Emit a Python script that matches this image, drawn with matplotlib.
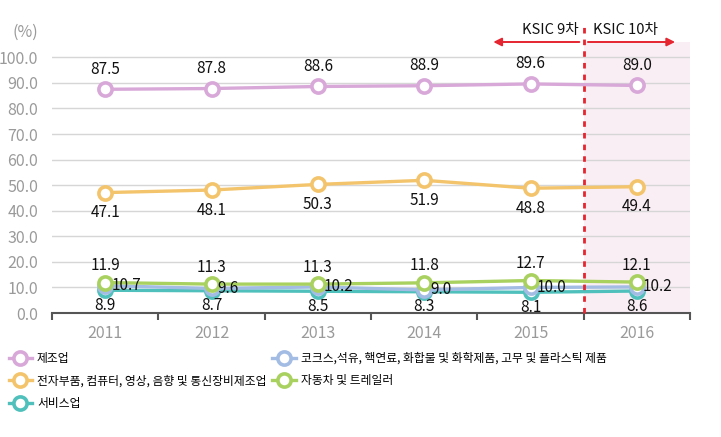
import matplotlib.pyplot as plt

plt.rcParams['font.family'] = ['Noto Sans CJK KR', 'DejaVu Sans']

years = ['2011', '2012', '2013', '2014', '2015', '2016']
manufacturing = [87.5, 87.8, 88.6, 88.9, 89.6, 89.0]
electronics = [47.1, 48.1, 50.3, 51.9, 48.8, 49.4]
services = [8.9, 8.7, 8.5, 8.3, 8.1, 8.6]
chemicals = [10.7, 9.6, 10.2, 9.0, 10.0, 10.2]
vehicles = [11.9, 11.3, 11.3, 11.8, 12.7, 12.1]

names = {
    'manufacturing': '제조업',
    'electronics': '전자부품, 컴퓨터, 영상, 음향 및 통신장비제조업',
    'services': '서비스업',
    'chemicals': '코크스,석유, 핵연료, 화합물 및 화학제품, 고무 및 플라스틱 제품',
    'vehicles': '자동차 및 트레일러',
}

# key, values, colour, label offset (px), ha  -- drawing order
series = [
    ('services', services, '#4fc0bb', (0, -15), 'center'),
    ('chemicals', chemicals, '#a3bce3', (6, 0), 'left'),
    ('vehicles', vehicles, '#a9d160', (0, 17), 'center'),
    ('electronics', electronics, '#f3c46b', (0, -20), 'center'),
    ('manufacturing', manufacturing, '#d8a8d8', (0, 20), 'center'),
]
legend_order = ['manufacturing', 'electronics', 'services', 'chemicals', 'vehicles']

fig = plt.figure(figsize=(7.21, 4.37), dpi=100)
ax = fig.add_axes([52 / 721, 1 - 313 / 437, 638 / 721, 271 / 437])

x = list(range(len(years)))
handles = {}
for key, vals, color, (dx, dy), ha in series:
    (ln,) = ax.plot(x, vals, color=color, lw=2.4, marker='o', ms=9.5,
                    mfc='white', mec=color, mew=2.6, zorder=3, clip_on=False)
    handles[key] = ln
    for xi, v in zip(x, vals):
        ax.annotate(f'{v:.1f}', (xi, v), xytext=(dx, dy), textcoords='offset pixels',
                    ha=ha, va='center', fontsize=11, color='#111111', zorder=5)

# KSIC 10 period
red = '#e52530'
ax.axvspan(4.5, 5.5, color='#faeef5', zorder=0.2, lw=0)
ax.plot([4.5, 4.5], [0, 114], color=red, lw=2, ls=(0, (2, 2.2)),
        clip_on=False, zorder=4)
ax.annotate('', xy=(3.65, 106), xytext=(4.46, 106), annotation_clip=False,
            arrowprops=dict(arrowstyle='-|>', color=red, lw=1.4,
                            shrinkA=0, shrinkB=0, mutation_scale=12))
ax.annotate('', xy=(5.36, 106), xytext=(4.54, 106), annotation_clip=False,
            arrowprops=dict(arrowstyle='-|>', color=red, lw=1.4,
                            shrinkA=0, shrinkB=0, mutation_scale=12))
ax.text(4.45, 110.7, 'KSIC 9차', ha='right', va='center', fontsize=10.5, color='#111111')
ax.text(4.59, 110.7, 'KSIC 10차', ha='left', va='center', fontsize=10.5, color='#111111')

ax.set_xlim(-0.5, 5.5)
ax.set_ylim(0, 106)
ax.set_yticks(range(0, 101, 10))
ax.set_yticklabels([f'{v:.1f}' for v in range(0, 101, 10)])
ax.set_xticks(x)
ax.set_xticklabels(years)
ax.set_xticks([i - 0.5 for i in range(len(years) + 1)], minor=True)
ax.tick_params(axis='y', length=0, pad=10, labelsize=11.5, labelcolor='#9a9a9a')
ax.tick_params(axis='x', which='major', length=0, pad=9, labelsize=11.5, labelcolor='#9a9a9a')
ax.tick_params(axis='x', which='minor', length=5, width=1.5, color='#555555', direction='out')

ax.set_axisbelow(True)
ax.yaxis.grid(True, color='#d6d6d6', lw=1)
for side in ('top', 'right', 'left'):
    ax.spines[side].set_visible(False)
ax.spines['bottom'].set_color('#555555')
ax.spines['bottom'].set_linewidth(1.5)

fig.text(38 / 721, 1 - 32 / 437, '(%)', ha='right', va='center', fontsize=11.5, color='#9a9a9a')

fig.legend([handles[k] for k in legend_order], [names[k] for k in legend_order],
           ncol=2, loc='upper left', bbox_to_anchor=(0.012, 1 - 352 / 437),
           frameon=False, fontsize=8.5, handlelength=2.0, handletextpad=0.4,
           columnspacing=0.5, labelspacing=0.8, borderaxespad=0, borderpad=0)

fig.savefig('out.png', dpi=100)
